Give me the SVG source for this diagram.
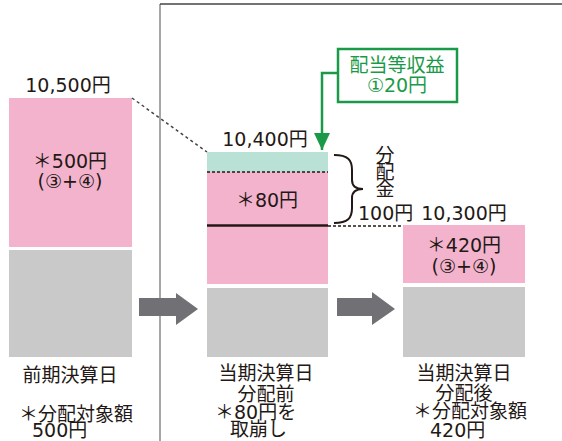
<svg xmlns="http://www.w3.org/2000/svg" width="562" height="441" viewBox="0 0 562 441">
<style>
text{font-family:"DejaVu Sans","Noto Sans CJK JP",sans-serif;font-size:19px;fill:#231815}
.c{text-anchor:middle}
.j{font-family:"Noto Sans CJK JP",sans-serif}
.pink{fill:#f3b3cd}
.gray{fill:#c9c9c9}
.mint{fill:#b9e1d5}
.arrow{fill:#707075}
.g{fill:#1a9a48}
</style>
<defs>
<marker id="ga" viewBox="0 0 17 16" markerWidth="17" markerHeight="16" refX="17" refY="8" orient="auto" markerUnits="userSpaceOnUse"><path d="M0 0 L17 8 L0 16 Z" fill="#1a9a48"/></marker>
</defs>
<rect width="562" height="441" fill="#fff"/>
<g id="frame">
<line x1="160" y1="4" x2="160" y2="441" stroke="#8a8a8a" stroke-width="1.5"/>
<line x1="160" y1="4" x2="562" y2="4" stroke="#444" stroke-width="1.5"/>
</g>
<g id="col-prev">
<rect class="pink" x="9" y="98" width="123" height="149"/>
<rect class="gray" x="9" y="250" width="123" height="107"/>
<text x="68" y="92" class="c">10,500円</text>
<text x="70" y="168" class="c">＊500円</text>
<text x="70" y="188" class="c">(③+④)</text>
<text x="70" y="382" class="c j" font-size="20">前期決算日</text>
<text x="19" y="421" class="j" font-size="18">＊分配対象額</text>
<text x="32" y="437">500円</text>
</g>
<g id="col-before">
<rect class="mint" x="207" y="152" width="121" height="20"/>
<rect class="pink" x="207" y="172" width="121" height="112"/>
<rect class="gray" x="207" y="288" width="121" height="69"/>
<line x1="207" y1="172" x2="328" y2="172" stroke="#231815" stroke-width="1.5" stroke-dasharray="3 2"/>
<line x1="207" y1="225.5" x2="328" y2="225.5" stroke="#231815" stroke-width="2.5"/>
<text x="265" y="146" class="c">10,400円</text>
<text x="267" y="207" class="c">＊80円</text>
<text x="266" y="380" class="c j" font-size="20">当期決算日</text>
<text x="266" y="401" class="c j">分配前</text>
<text x="215" y="419">＊80円を</text>
<text x="230" y="436" class="j">取崩し</text>
</g>
<g id="col-after">
<rect class="pink" x="403" y="225" width="122" height="58"/>
<rect class="gray" x="403" y="287" width="122" height="70"/>
<text x="464" y="220" class="c">10,300円</text>
<text x="464" y="252" class="c">＊420円</text>
<text x="464" y="273" class="c">(③+④)</text>
<text x="464" y="380" class="c j" font-size="20">当期決算日</text>
<text x="464" y="400" class="c j">分配後</text>
<text x="413" y="418" class="j" font-size="17.5">＊分配対象額</text>
<text x="430" y="437">420円</text>
</g>
<g id="income-box">
<rect x="338" y="49" width="119" height="53" fill="#fff" stroke="#1a9a48" stroke-width="2.5"/>
<text x="397" y="72" class="c j g" font-size="18">配当等収益</text>
<text x="397" y="92" class="c g" font-size="18">①20円</text>
</g>
<g id="distribution">
<path d="M334 155 C348 155 352 160 352 170 L352 180 C352 186 356 189 363 189 C356 189 352 192 352 198 L352 208 C352 218 348 223 334 223" fill="none" stroke="#231815" stroke-width="2"/>
<text x="385" y="162" class="c j" font-size="17">分</text>
<text x="385" y="179" class="c j" font-size="17">配</text>
<text x="385" y="196" class="c j" font-size="17">金</text>
<text x="358" y="220">100円</text>
</g>
<g id="connectors">
<line x1="132" y1="98" x2="207" y2="152" stroke="#444" stroke-width="1.5" stroke-dasharray="3 3"/>
<line x1="328" y1="226" x2="403" y2="226" stroke="#231815" stroke-width="1.5" stroke-dasharray="3 2"/>
<path d="M338 73 L322 73 L322 150" fill="none" stroke="#1a9a48" stroke-width="2.5" marker-end="url(#ga)"/>
<path class="arrow" d="M139 298 L176 298 L176 293 L198 309 L176 325 L176 316 L139 316 Z"/>
<path class="arrow" d="M337 298 L372 298 L372 292 L395 309 L372 325 L372 316 L337 316 Z"/>
</g>
</svg>
